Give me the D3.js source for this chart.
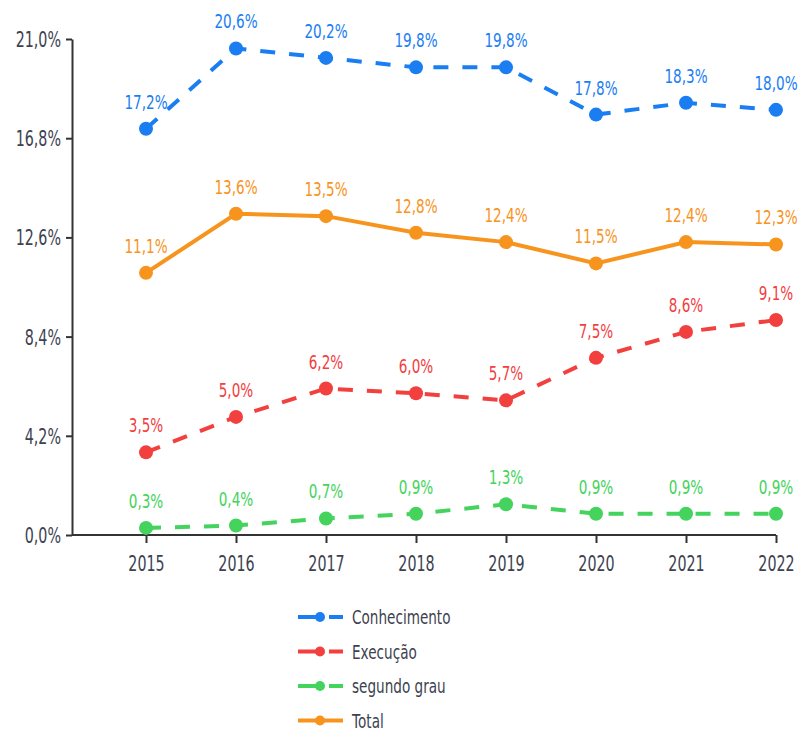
<!DOCTYPE html>
<html>
<head>
  <meta charset="utf-8">
  <script src="https://d3js.org/d3.v7.min.js"></script>
  <style>
    body { margin: 0; background: #fff; }
    text { font-family: "DejaVu Sans", sans-serif; }
  </style>
</head>
<body>
<script>
  // data
  var years = ["2015", "2016", "2017", "2018", "2019", "2020", "2021", "2022"];
  var conhecimento = [17.2, 20.6, 20.2, 19.8, 19.8, 17.8, 18.3, 18.0];
  var execucao = [3.5, 5.0, 6.2, 6.0, 5.7, 7.5, 8.6, 9.1];
  var segundoGrau = [0.3, 0.4, 0.7, 0.9, 1.3, 0.9, 0.9, 0.9];
  var total = [11.1, 13.6, 13.5, 12.8, 12.4, 11.5, 12.4, 12.3];
  var yTicks = [0, 4.2, 8.4, 12.6, 16.8, 21.0];

  var series = [
    { name: "Conhecimento", values: conhecimento, color: "#1a7ef2", dashed: true },
    { name: "Execução", values: execucao, color: "#f2403f", dashed: true },
    { name: "segundo grau", values: segundoGrau, color: "#44d35c", dashed: true },
    { name: "Total", values: total, color: "#f7941d", dashed: false }
  ];

  var W = 801, H = 733;
  var svg = d3.select("body").append("svg").attr("width", W).attr("height", H);

  var x = d3.scalePoint().domain(years).range([146, 776]);
  var y = d3.scaleLinear().domain([0, 21]).range([535, 39]);
  var fmt = function (d) { return d.toFixed(1).replace(".", ",") + "%"; };

  // the original font is a narrow one, squeeze DejaVu horizontally
  var K = 0.68;
  function narrow(sel) {
    sel.each(function () {
      var t = d3.select(this);
      var tx = +t.attr("x") || 0;
      t.attr("x", tx / K).attr("transform", "scale(" + K + ",1)");
    });
  }

  // y axis
  var ya = svg.append("g").attr("transform", "translate(72,0)")
    .call(d3.axisLeft(y).tickValues(yTicks).tickFormat(fmt).tickSize(6).tickSizeOuter(0));
  // x axis
  var xa = svg.append("g").attr("transform", "translate(0,535)")
    .call(d3.axisBottom(x).tickSize(8).tickSizeOuter(0));
  xa.select(".domain").attr("d", "M72,0H776");

  [ya, xa].forEach(function (g) {
    g.select(".domain").attr("stroke", "#333").attr("stroke-width", 2);
    g.selectAll(".tick line").attr("stroke", "#333").attr("stroke-width", 2);
    g.selectAll(".tick text").attr("fill", "#3d4250").style("font-size", "21px");
  });
  ya.selectAll(".tick text").attr("x", -11).attr("dy", "0.36em");
  xa.selectAll(".tick text").attr("y", 36).attr("dy", 0);
  narrow(ya.selectAll(".tick text"));
  narrow(xa.selectAll(".tick text"));

  var line = d3.line().x(function (d, i) { return x(years[i]); }).y(function (d) { return y(d); });

  series.forEach(function (s) {
    var g = svg.append("g");
    g.append("path").datum(s.values)
      .attr("d", line)
      .attr("fill", "none")
      .attr("stroke", s.color)
      .attr("stroke-width", 4)
      .attr("stroke-dasharray", s.dashed ? "15,14" : null);
    g.selectAll("circle").data(s.values).enter().append("circle")
      .attr("cx", function (d, i) { return x(years[i]); })
      .attr("cy", function (d) { return y(d); })
      .attr("r", 7)
      .attr("fill", s.color);
    g.selectAll("text").data(s.values).enter().append("text")
      .attr("x", function (d, i) { return x(years[i]); })
      .attr("y", function (d) { return y(d) - 20; })
      .attr("text-anchor", "middle")
      .attr("fill", s.color)
      .style("font-size", "20px")
      .text(fmt)
      .call(narrow);
  });

  // legend
  var leg = svg.append("g");
  series.forEach(function (s, i) {
    var ly = 617 + i * 34.5;
    var row = leg.append("g").attr("transform", "translate(0," + ly + ")");
    row.append("line")
      .attr("x1", 298).attr("x2", 343).attr("y1", 0).attr("y2", 0)
      .attr("stroke", s.color).attr("stroke-width", 4)
      .attr("stroke-dasharray", s.dashed ? "22,9,14" : null);
    row.append("circle").attr("cx", 320).attr("cy", 0).attr("r", 5).attr("fill", s.color);
    row.append("text").attr("x", 352).attr("y", 0).attr("dy", "0.36em")
      .attr("fill", "#3d4250").style("font-size", "20px").text(s.name)
      .call(narrow);
  });
</script>
</body>
</html>
